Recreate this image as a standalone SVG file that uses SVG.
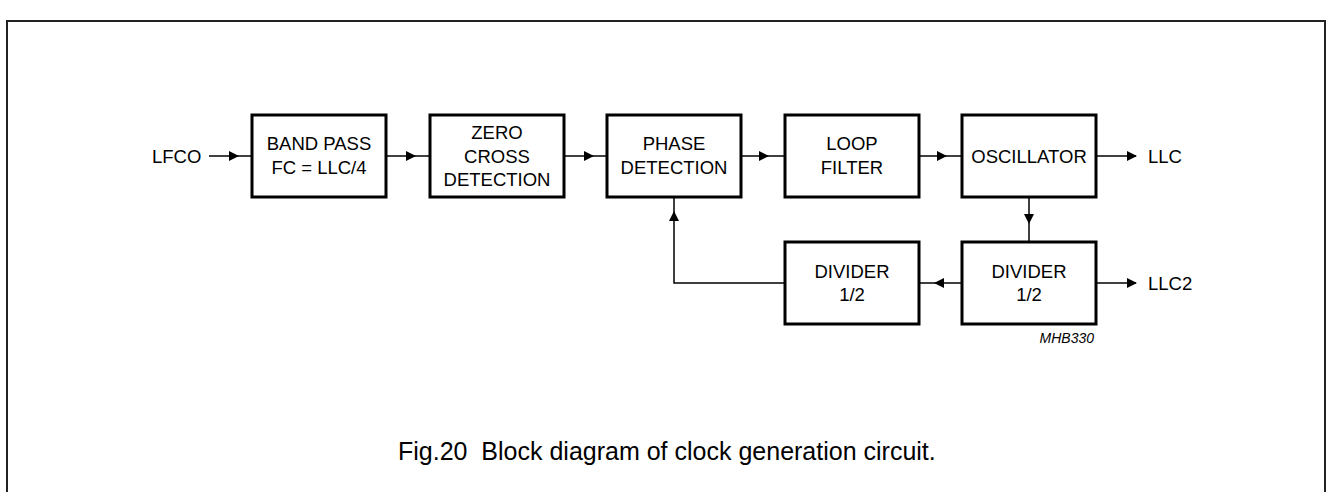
<svg xmlns="http://www.w3.org/2000/svg" xmlns:xlink="http://www.w3.org/1999/xlink" width="1329" height="492" viewBox="0 0 1329 492">
<style>
.box{fill:#fff;stroke:#000;stroke-width:3}
.ln{fill:none;stroke:#000;stroke-width:1.5}
.t{font-family:"Liberation Sans",Arial,sans-serif;font-size:18.5px;fill:#000;text-anchor:middle}
.lb{font-family:"Liberation Sans",Arial,sans-serif;font-size:18.5px;fill:#000}
.code{font-family:"Liberation Sans",Arial,sans-serif;font-size:14px;font-style:italic;fill:#000;text-anchor:end}
.cap{font-family:"Liberation Sans",Arial,sans-serif;font-size:25px;fill:#000}
.frame{fill:none;stroke:#222;stroke-width:2}
</style>
<defs>
<path id="ah" d="M0,0 L-10,-5 L-10,5 Z" fill="#000"/>
</defs>
<rect width="1329" height="492" fill="#fff"/>
<path class="frame" d="M7,492 V21 H1325 V492"/>

<g id="connectors">
<path class="ln" d="M209,156 H252"/>
<use xlink:href="#ah" transform="translate(239,156)"/>
<path class="ln" d="M386,156 H430"/>
<use xlink:href="#ah" transform="translate(416,156)"/>
<path class="ln" d="M564,156 H607"/>
<use xlink:href="#ah" transform="translate(594,156)"/>
<path class="ln" d="M741,156 H785"/>
<use xlink:href="#ah" transform="translate(769,156)"/>
<path class="ln" d="M919,156 H962"/>
<use xlink:href="#ah" transform="translate(947,156)"/>
<path class="ln" d="M1096,156 H1136"/>
<use xlink:href="#ah" transform="translate(1137,156)"/>
<path class="ln" d="M1029,197 V242"/>
<use xlink:href="#ah" transform="translate(1029,224) rotate(90)"/>
<path class="ln" d="M962,283 H919"/>
<use xlink:href="#ah" transform="translate(934,283) rotate(180)"/>
<path class="ln" d="M1096,283 H1136"/>
<use xlink:href="#ah" transform="translate(1137,283)"/>
<path class="ln" d="M785,283 H674 V197"/>
<use xlink:href="#ah" transform="translate(674,211) rotate(-90)"/>
</g>

<g id="lfco"><text class="lb" x="152" y="163">LFCO</text></g>

<g id="bandpass">
<rect class="box" x="252" y="115" width="134" height="82"/>
<text class="t" x="319" y="150">BAND PASS</text>
<text class="t" x="319" y="174">FC = LLC/4</text>
</g>

<g id="zerocross">
<rect class="box" x="430" y="115" width="134" height="82"/>
<text class="t" x="497" y="139">ZERO</text>
<text class="t" x="497" y="162.5">CROSS</text>
<text class="t" x="497" y="186">DETECTION</text>
</g>

<g id="phase">
<rect class="box" x="607" y="115" width="134" height="82"/>
<text class="t" x="674" y="150">PHASE</text>
<text class="t" x="674" y="173.5">DETECTION</text>
</g>

<g id="loopfilter">
<rect class="box" x="785" y="115" width="134" height="82"/>
<text class="t" x="852" y="150">LOOP</text>
<text class="t" x="852" y="173.5">FILTER</text>
</g>

<g id="oscillator">
<rect class="box" x="962" y="115" width="134" height="82"/>
<text class="t" x="1029" y="163">OSCILLATOR</text>
</g>

<g id="llc"><text class="lb" x="1148" y="163">LLC</text></g>

<g id="divider1">
<rect class="box" x="785" y="242" width="134" height="82"/>
<text class="t" x="852" y="277.5">DIVIDER</text>
<text class="t" x="852" y="301">1/2</text>
</g>

<g id="divider2">
<rect class="box" x="962" y="242" width="134" height="82"/>
<text class="t" x="1029" y="277.5">DIVIDER</text>
<text class="t" x="1029" y="301">1/2</text>
</g>

<g id="llc2"><text class="lb" x="1148" y="290">LLC2</text></g>

<g id="code"><text class="code" x="1094" y="343">MHB330</text></g>

<g id="caption"><text class="cap" x="398" y="460" xml:space="preserve">Fig.20  Block diagram of clock generation circuit.</text></g>
</svg>
